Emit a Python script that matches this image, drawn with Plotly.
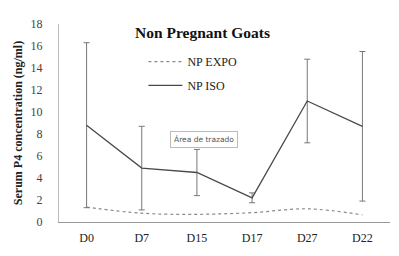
import plotly.graph_objects as go

days = ["D0", "D7", "D15", "D17", "D27", "D22"]
np_iso = [8.8, 4.9, 4.5, 2.2, 11.0, 8.7]
np_iso_err = [7.5, 3.8, 2.1, 0.45, 3.8, 6.8]
np_expo = [1.35, 0.8, 0.7, 0.85, 1.2, 0.65]
y_ticks = [0, 2, 4, 6, 8, 10, 12, 14, 16, 18]

serif = "Liberation Serif, Times New Roman, serif"

# page body has an 8px margin; figure sized to fill the remaining window
W, H = 391, 248

fig = go.Figure()
fig.add_trace(go.Scatter(
    x=days, y=np_expo, mode="lines", name="NP EXPO", legend="legend",
    line=dict(color="#8a8a8a", width=1.2, dash="dot", shape="spline"),
))
fig.add_trace(go.Scatter(
    x=days, y=np_iso, mode="lines", name="NP ISO", legend="legend2",
    line=dict(color="#4a4a4a", width=1.3),
    error_y=dict(type="data", array=np_iso_err, visible=True,
                 color="#777777", thickness=1, width=3),
))

leg_common = dict(xanchor="left", yanchor="middle",
                  font=dict(family=serif, size=12, color="#222222"),
                  bgcolor="rgba(0,0,0,0)", itemwidth=34)

fig.update_layout(
    width=W, height=H,
    margin=dict(l=45, r=9, t=15, b=34),
    paper_bgcolor="white", plot_bgcolor="white",
    showlegend=True,
    legend=dict(x=0.255, y=0.81, **leg_common),
    legend2=dict(x=0.255, y=0.69, **leg_common),
    font=dict(family=serif, size=12, color="#333333"),
    xaxis=dict(type="category", range=[-0.5, 5.5], showgrid=False,
               showline=True, linecolor="#999999", linewidth=1, ticks="",
               ticklabelstandoff=5,
               tickfont=dict(family=serif, size=12, color="#222222"),
               zeroline=False),
    yaxis=dict(range=[0, 18], tickvals=y_ticks, showgrid=False,
               showline=True, linecolor="#bbbbbb", linewidth=1, ticks="",
               ticklabelstandoff=13,
               tickfont=dict(family=serif, size=12, color="#444444"),
               zeroline=False,
               title=dict(text="<b>Serum P4 concentration (ng/ml)</b>",
                          font=dict(family=serif, size=12, color="#222222"),
                          standoff=5)),
    annotations=[
        dict(text="<b>Non Pregnant Goats</b>", x=0.435, y=1.0, xref="paper",
             yref="paper", yanchor="bottom", yshift=-19, showarrow=False,
             font=dict(family=serif, size=15.5, color="#111111")),
        dict(text="Área de trazado", x=0.335, y=0.46, xref="paper", yref="paper",
             xanchor="left", yanchor="top", showarrow=False, bordercolor="#bbbbbb",
             borderwidth=1, bgcolor="white", borderpad=3,
             font=dict(family="DejaVu Sans", size=7.5, color="#555555")),
    ],
)
fig.write_html("out.html")
